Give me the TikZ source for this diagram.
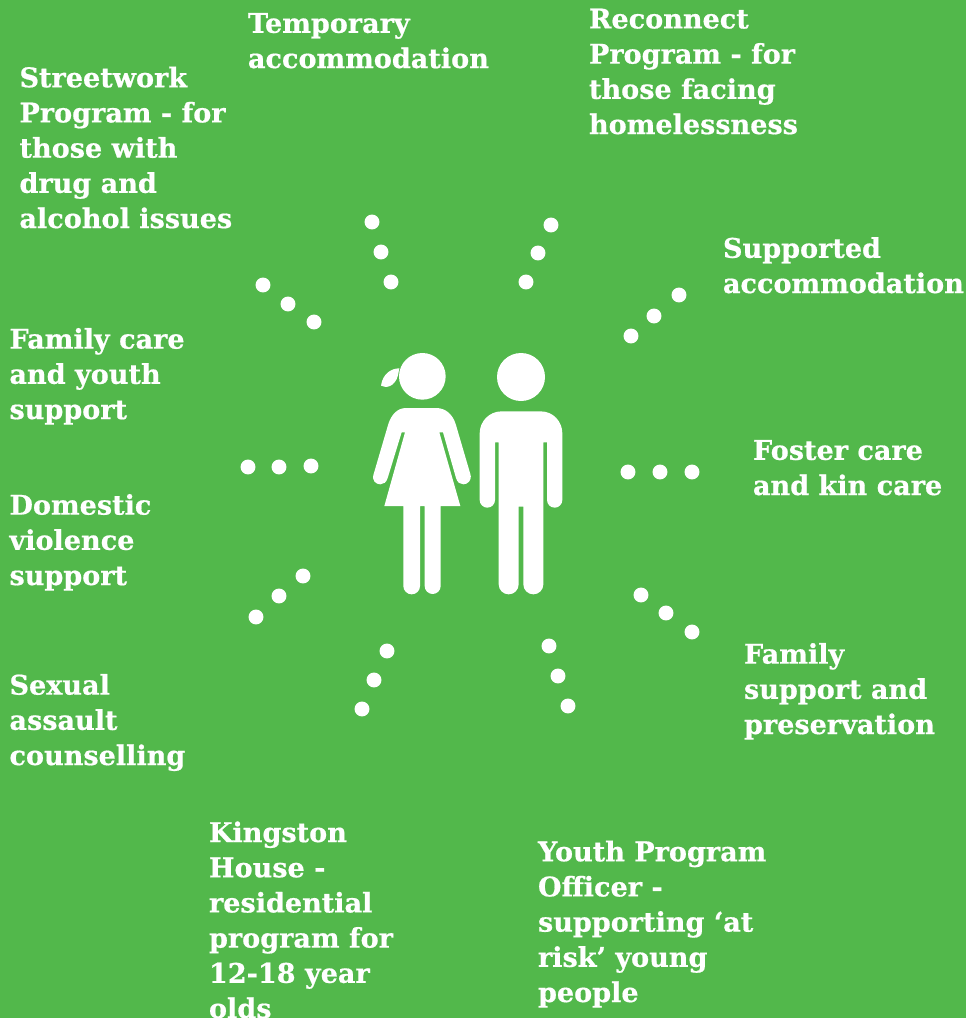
\documentclass[tikz,border=0pt]{standalone}
\usepackage{fontspec}
\setmainfont[BoldFeatures={FakeBold=0.6}]{DejaVu Serif}
\definecolor{bg}{HTML}{52B84B}
\tikzset{
  lab/.style={anchor=base west,inner sep=0pt,outer sep=0pt,text=white,align=left,font=\bfseries\fontsize{20.3}{26.4}\selectfont},
  dot/.style={circle,fill=white,draw=none,minimum size=11.2pt,inner sep=0pt},
}
\begin{document}
\begin{tikzpicture}[x=0.75pt,y=-0.75pt]
\useasboundingbox (0,0) rectangle (966,1018);
\clip (0,0) rectangle (966,1018);
\fill[bg] (0,0) rectangle (966,1018);
% labels (anchored at the baseline of the last line)
\node[lab] (tmp) at (248,68) {Temporary\\accommodation};
\node[lab] (rec) at (589,134) {Reconnect\\Program - for\\those facing\\homelessness};
\node[lab] (str) at (19.5,228) {Streetwork\\Program - for\\those with\\drug and\\alcohol issues};
\node[lab] (sup) at (723,293) {Supported\\accommodation};
\node[lab] (fam) at (9.5,419) {Family care\\and youth\\support};
\node[lab] (fos) at (753,495) {Foster care\\and kin care};
\node[lab] (dom) at (9.5,585) {Domestic\\violence\\support};
\node[lab] (fsp) at (744,734) {Family\\support and\\preservation};
\node[lab] (sex) at (9.5,765) {Sexual\\assault\\counselling};
\node[lab] (kin) at (209,1018) {Kingston\\House -\\residential\\program for\\12-18 year\\olds};
\node[lab] (you) at (538,1002) {Youth Program\\Officer -\\supporting ‘at\\risk’ young\\people};
% dots
\foreach \n/\a/\b in {a1/372/222,a2/381/252,a3/391/282,b1/551/225,b2/538/253,b3/526/282,
 c1/263/285,c2/288/304,c3/314/322,d1/679/295,d2/654/316,d3/631/336,
 e1/248/467,e2/279/467,e3/311/466,f1/628/472,f2/660/472,f3/692/472,
 g1/303/576,g2/279/596,g3/256/617,h1/641/595,h2/666/613,h3/692/632,
 i1/387/651,i2/374/680,i3/362/709,j1/549/646,j2/558/676,j3/568/706}
  \node[dot] (\n) at (\a,\b) {};
% figures (coordinates in 1/3 px)
\begin{scope}[x=0.25pt,y=-0.25pt,shift={(1080,1020)}]
\fill[white] (187,109) circle[radius=70*0.25pt];
\fill[white] (118,85) .. controls (95,85) and (68,100) .. (63,137) .. controls (78,146) and (105,140) .. (114,106) -- cycle;
\fill[white] (138,204) -- (228,204) .. controls (258,204) and (278,224) .. (287,252)
 -- (331,402) .. controls (337,422) and (322,433) .. (310,433) .. controls (300,433) and (292,427) .. (288,414)
 -- (249,277) -- (238,277) -- (301,498) -- (242,498) -- (242,738) arc[start angle=0,end angle=-180,radius=24*0.25pt]
 -- (194,498) -- (180,498) -- (180,738) arc[start angle=0,end angle=-180,radius=25*0.25pt]
 -- (130,498) -- (73,498) -- (135,277) -- (125,277) -- (83,414)
 .. controls (79,427) and (71,433) .. (61,433) .. controls (48,433) and (34,422) .. (41,402)
 -- (85,252) .. controls (94,224) and (112,204) .. (138,204) -- cycle;
\fill[white] (483,111) circle[radius=72*0.25pt];
\fill[white] (425,214) -- (542,214) .. controls (580,214) and (607,245) .. (607,280)
 -- (607,480) arc[start angle=0,end angle=-180,radius=23*0.25pt]
 -- (561,307) -- (550,307) -- (550,733) arc[start angle=0,end angle=-180,radius=30*0.25pt]
 -- (490,500) -- (476,500) -- (476,733) arc[start angle=0,end angle=-180,radius=30*0.25pt]
 -- (416,307) -- (405,307) -- (405,480) arc[start angle=0,end angle=-180,radius=23*0.25pt]
 -- (359,280) .. controls (359,245) and (387,214) .. (425,214) -- cycle;
\end{scope}
\end{tikzpicture}
\end{document}
